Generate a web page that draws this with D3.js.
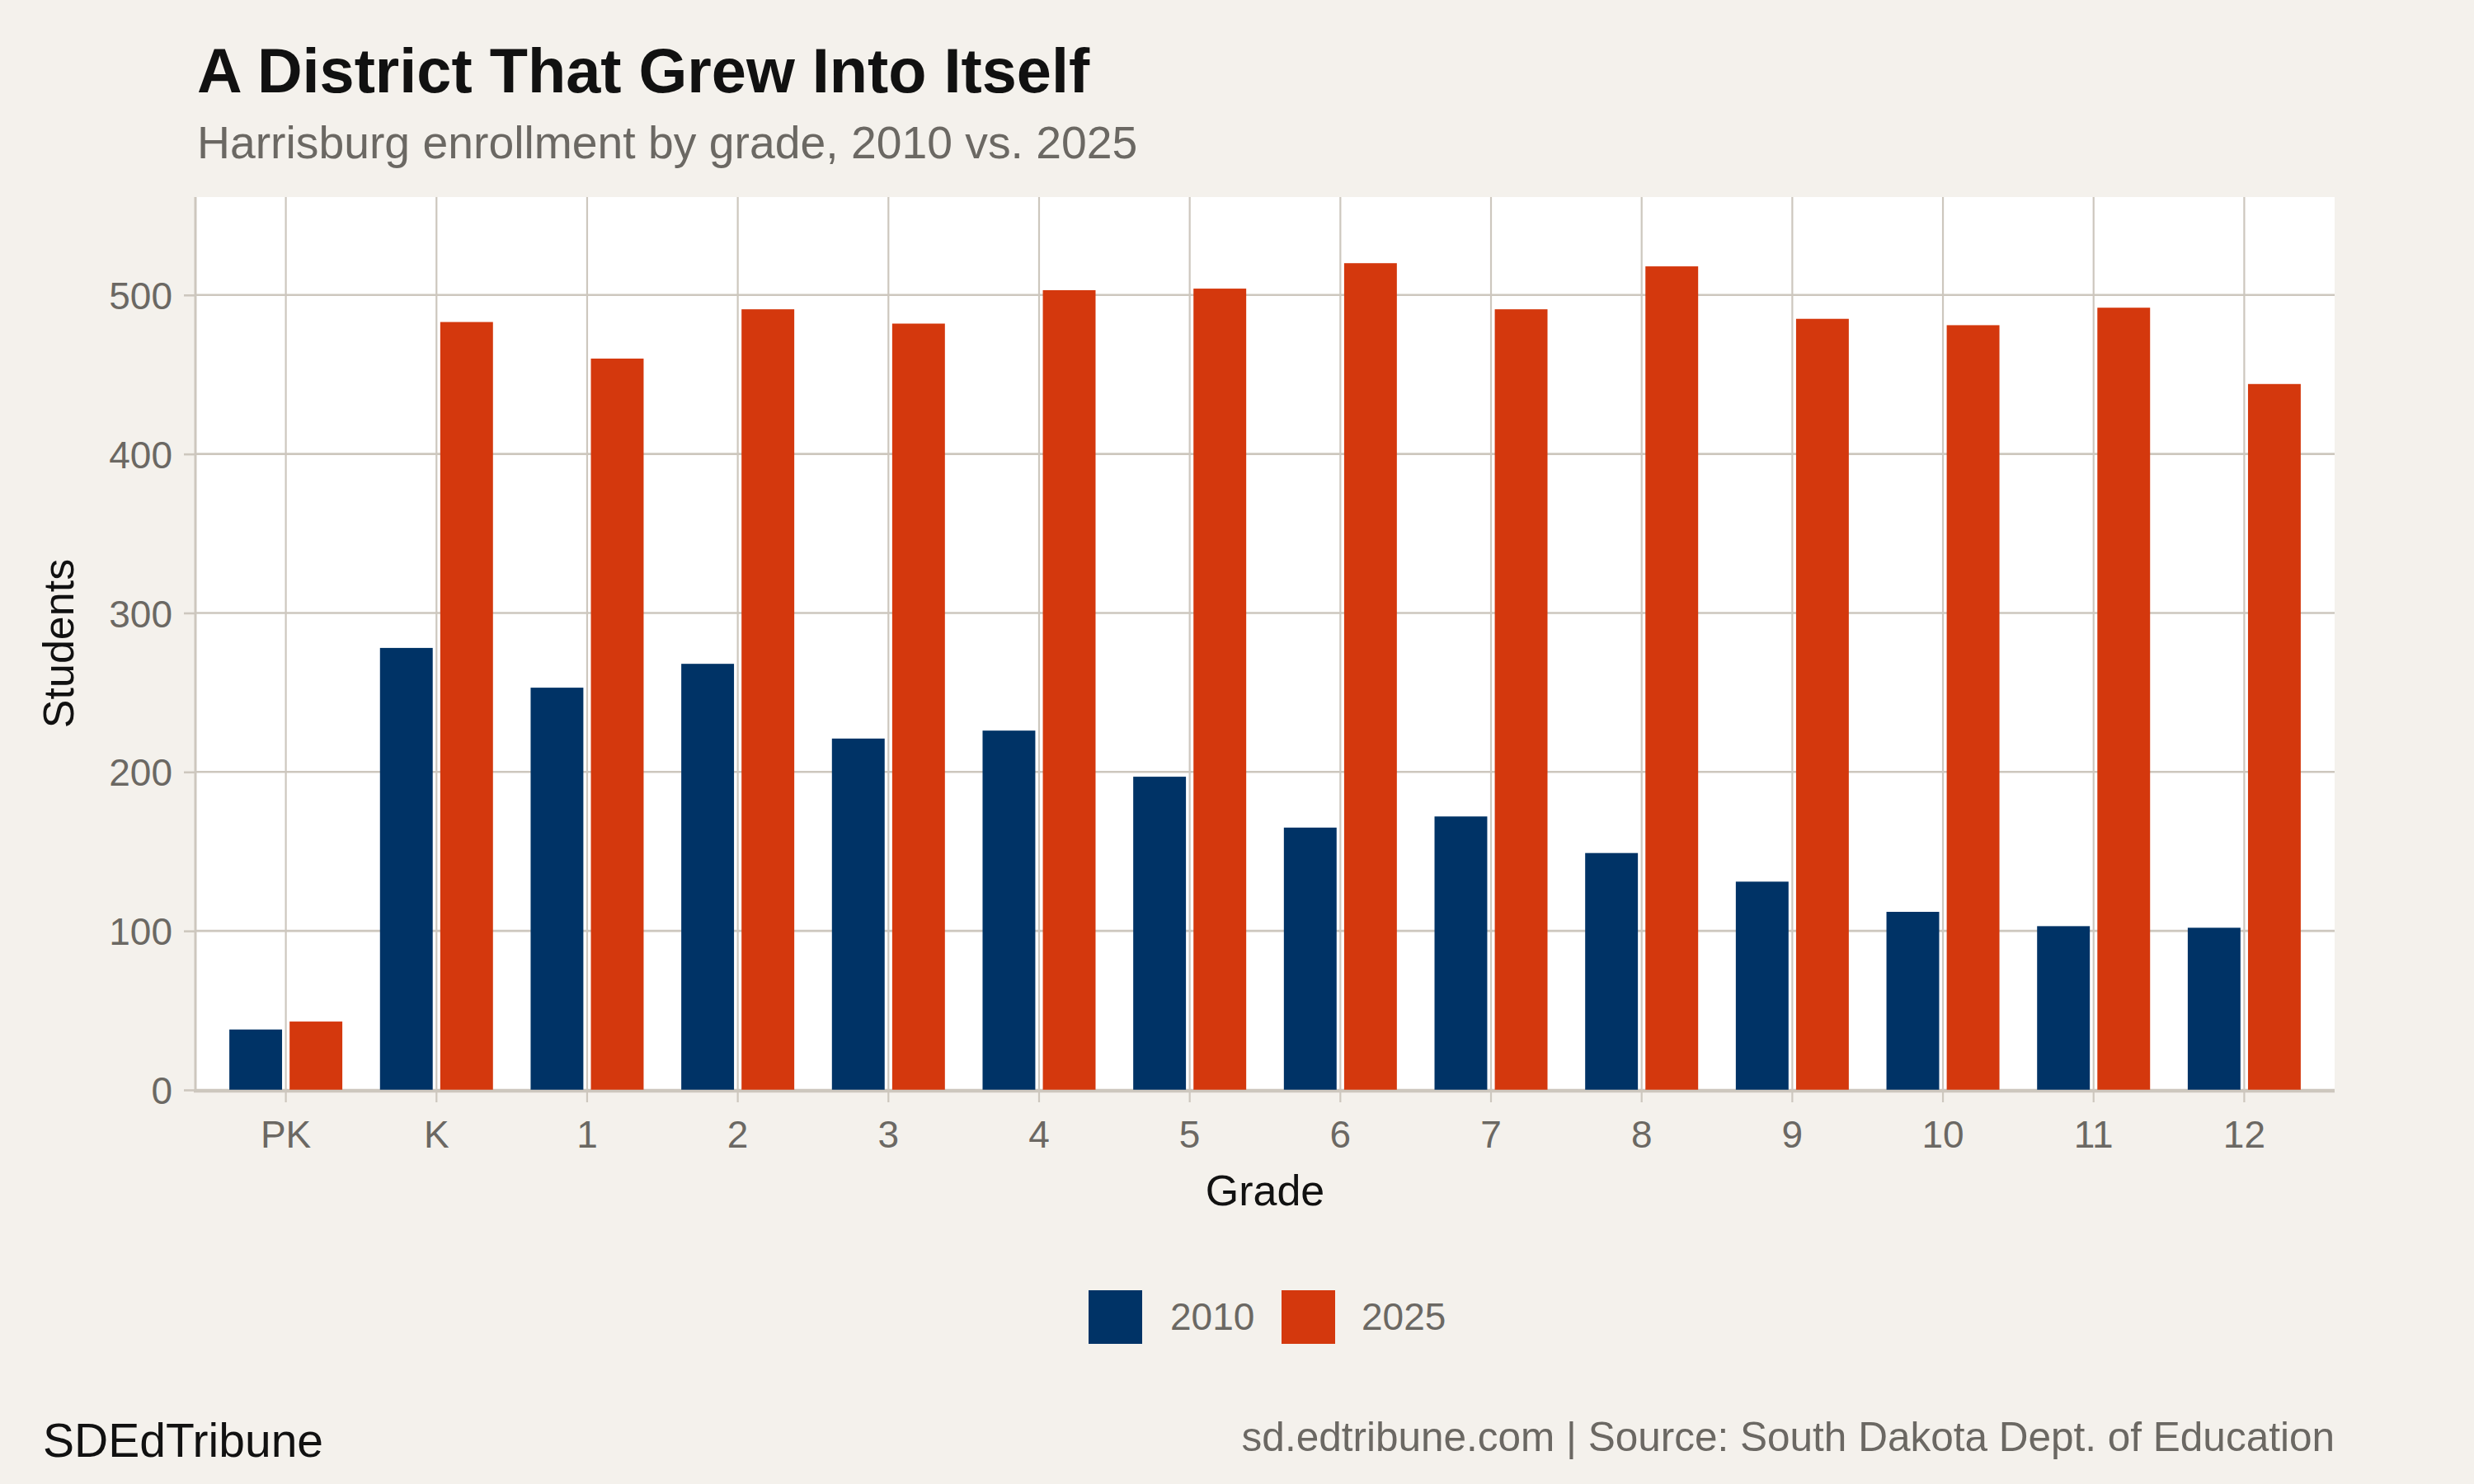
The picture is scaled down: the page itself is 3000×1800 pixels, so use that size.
<!DOCTYPE html>
<html>
<head>
<meta charset="utf-8">
<script src="https://cdn.jsdelivr.net/npm/d3@7"></script>
<style>
  html, body { margin: 0; padding: 0; background: #F4F1EC; }
  svg { display: block; }
  text { font-family: "Liberation Sans", Arial, Helvetica, sans-serif; }
</style>
</head>
<body>
<script>
const grades = ["PK", "K", "1", "2", "3", "4", "5", "6", "7", "8", "9", "10", "11", "12"];
const years = ["2010", "2025"];
const values2010 = [38, 278, 253, 268, 221, 226, 197, 165, 172, 149, 131, 112, 103, 102];
const values2025 = [43, 483, 460, 491, 482, 503, 504, 520, 491, 518, 485, 481, 492, 444];
const yTicks = [0, 100, 200, 300, 400, 500];

const W = 3000, H = 1800;
const colors = { "2010": "#003366", "2025": "#D4380D" };
const gridColor = "#CDC7BE";
const grayText = "#6B6863";

const svg = d3.select("body").append("svg").attr("width", W).attr("height", H);
svg.append("rect").attr("width", W).attr("height", H).attr("fill", "#F4F1EC");

const panel = { left: 237, right: 2831, top: 239, bottom: 1322 };

const x = d3.scaleBand().domain(grades).range([panel.left, panel.right]).paddingInner(0).paddingOuter(0.1);
const step = x.step();
const x1 = d3.scaleBand().domain(years).range([-0.4 * step, 0.4 * step]);
const barW = 0.35 * step;
const yMax = d3.max(values2025.concat(values2010)) * 1.08;
const y = d3.scaleLinear().domain([0, yMax]).range([panel.bottom, panel.top]);

// panel background
svg.append("rect").attr("x", panel.left).attr("y", panel.top)
  .attr("width", panel.right - panel.left).attr("height", panel.bottom - panel.top).attr("fill", "#FFFFFF");

// horizontal gridlines
svg.append("g").selectAll("line").data(yTicks).join("line")
  .attr("x1", panel.left).attr("x2", panel.right)
  .attr("y1", d => y(d)).attr("y2", d => y(d))
  .attr("stroke", gridColor).attr("stroke-width", 2.6);

// vertical gridlines
svg.append("g").selectAll("line").data(grades).join("line")
  .attr("x1", d => x(d) + step / 2).attr("x2", d => x(d) + step / 2)
  .attr("y1", panel.top).attr("y2", panel.bottom)
  .attr("stroke", gridColor).attr("stroke-width", 2.2);

// left axis line
svg.append("line").attr("x1", panel.left).attr("x2", panel.left)
  .attr("y1", panel.top).attr("y2", panel.bottom)
  .attr("stroke", gridColor).attr("stroke-width", 3);

// bars
const rows = grades.map((g, i) => ({ grade: g, "2010": values2010[i], "2025": values2025[i] }));
const groups = svg.append("g").selectAll("g").data(rows).join("g")
  .attr("transform", d => `translate(${x(d.grade) + step / 2},0)`);
groups.selectAll("rect").data(d => years.map(yr => ({ yr, v: d[yr] }))).join("rect")
  .attr("x", d => x1(d.yr) + (x1.bandwidth() - barW) / 2)
  .attr("width", barW)
  .attr("y", d => y(d.v))
  .attr("height", d => y(0) - y(d.v))
  .attr("fill", d => colors[d.yr]);

// bottom axis line
svg.append("line").attr("x1", panel.left - 2).attr("x2", panel.right)
  .attr("y1", y(0) + 1.5).attr("y2", y(0) + 1.5)
  .attr("stroke", gridColor).attr("stroke-width", 3.5);

// y axis
const yAxis = d3.axisLeft(y).tickValues(yTicks).tickSize(14).tickPadding(14).tickFormat(d3.format("d"));
const gy = svg.append("g").attr("transform", `translate(${panel.left},0)`).call(yAxis);
gy.select(".domain").remove();
gy.selectAll(".tick line").attr("stroke", gridColor).attr("stroke-width", 2.6);
gy.selectAll(".tick text").attr("fill", grayText).attr("font-size", 46)
  .attr("font-family", "Liberation Sans, Arial, sans-serif").attr("dy", "0.36em");

// x axis
const xAxis = d3.axisBottom(x).tickSize(15).tickPadding(22);
const gx = svg.append("g").attr("transform", `translate(0,${panel.bottom})`).call(xAxis);
gx.select(".domain").remove();
gx.selectAll(".tick line").attr("stroke", gridColor).attr("stroke-width", 2.2);
gx.selectAll(".tick text").attr("fill", grayText).attr("font-size", 46)
  .attr("font-family", "Liberation Sans, Arial, sans-serif").attr("dy", "0.71em");

// axis titles
svg.append("text").attr("x", (panel.left + panel.right) / 2).attr("y", 1462)
  .attr("text-anchor", "middle").attr("font-size", 52).attr("fill", "#111").text("Grade");
svg.append("text").attr("transform", `translate(89,${(panel.top + panel.bottom) / 2}) rotate(-90)`)
  .attr("text-anchor", "middle").attr("font-size", 52).attr("fill", "#111").text("Students");

// title & subtitle
svg.append("text").attr("x", 239).attr("y", 112).attr("font-size", 75.7).attr("font-weight", "bold")
  .attr("fill", "#111").text("A District That Grew Into Itself");
svg.append("text").attr("x", 239).attr("y", 192).attr("font-size", 55.3)
  .attr("fill", grayText).text("Harrisburg enrollment by grade, 2010 vs. 2025");

// legend
const legend = svg.append("g");
const legendItems = [
  { yr: "2010", keyX: 1320, textX: 1419 },
  { yr: "2025", keyX: 1554, textX: 1651 }
];
legend.selectAll("rect").data(legendItems).join("rect")
  .attr("x", d => d.keyX).attr("y", 1565).attr("width", 65).attr("height", 65)
  .attr("fill", d => colors[d.yr]);
legend.selectAll("text").data(legendItems).join("text")
  .attr("x", d => d.textX).attr("y", 1613).attr("font-size", 46).attr("fill", grayText)
  .text(d => d.yr);

// footer
svg.append("text").attr("x", 52).attr("y", 1767).attr("font-size", 57).attr("fill", "#111").text("SDEdTribune");
svg.append("text").attr("x", panel.right).attr("y", 1760).attr("text-anchor", "end")
  .attr("font-size", 49.5).attr("fill", grayText)
  .text("sd.edtribune.com | Source: South Dakota Dept. of Education");
</script>
</body>
</html>
